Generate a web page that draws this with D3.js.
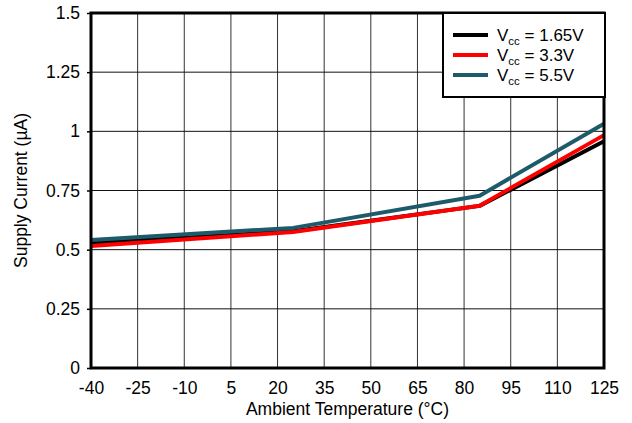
<!DOCTYPE html>
<html>
<head>
<meta charset="utf-8">
<script src="https://cdn.jsdelivr.net/npm/d3@7"></script>
<style>
  body { margin: 0; background: #fff; }
  text { font-family: "Liberation Sans", Arial, sans-serif; fill: #000; }
</style>
</head>
<body>
<div class="chart"></div>
<script>
// DATA ------------------------------------
const temps = [-40, 25, 85, 125]
const vcc165 = [0.528, 0.578, 0.685, 0.958]
const vcc33 = [0.515, 0.575, 0.686, 0.984]
const vcc55 = [0.541, 0.592, 0.728, 1.032]
const xTicks = [-40, -25, -10, 5, 20, 35, 50, 65, 80, 95, 110, 125]
const yTicks = [0, 0.25, 0.5, 0.75, 1, 1.25, 1.5]
const seriesNames = ["1.65V", "3.3V", "5.5V"]
const seriesColors = ["#000000", "#ff0000", "#1d5b6b"]

const series = [vcc165, vcc33, vcc55].map((vals, i) => ({
    name: seriesNames[i],
    color: seriesColors[i],
    values: vals.map((v, j) => ({t: temps[j], v: v}))
}))

// CHART INIT ------------------------------
const margin = {top: 13, right: 28, bottom: 55, left: 91}
const width = 632 - margin.left - margin.right
const height = 423 - margin.top - margin.bottom
const fontSize = 17.5

const svg = d3.select(".chart").append("svg")
        .attr("width", 632)
        .attr("height", 423)
    .append("g")
        .attr("transform", `translate(${margin.left},${margin.top})`)

const xScale = d3.scaleLinear().domain([-40, 125]).range([0, width])
const yScale = d3.scaleLinear().domain([0, 1.5]).range([height, 0])

// grid
svg.append("g").selectAll("line")
    .data(xTicks.slice(1, -1))
    .join("line")
        .attr("x1", d => xScale(d)).attr("x2", d => xScale(d))
        .attr("y1", 0).attr("y2", height)
        .attr("stroke", "#333").attr("stroke-width", 1)

svg.append("g").selectAll("line")
    .data(yTicks.slice(1, -1))
    .join("line")
        .attr("x1", 0).attr("x2", width)
        .attr("y1", d => yScale(d)).attr("y2", d => yScale(d))
        .attr("stroke", "#111").attr("stroke-width", 1)

// axes
const xAx = d3.axisBottom(xScale).tickValues(xTicks).tickSize(0).tickPadding(14)
    .tickFormat(d => String(d))
const yAx = d3.axisLeft(yScale).tickValues(yTicks).tickSize(4).tickPadding(7)
    .tickFormat(d => String(d))

svg.append("g")
    .attr("transform", `translate(0,${height})`)
    .call(xAx)
    .call(g => g.select(".domain").remove())
    .call(g => g.selectAll("text").attr("font-size", fontSize).attr("font-family", "Liberation Sans, Arial"))

svg.append("g")
    .call(yAx)
    .call(g => g.select(".domain").remove())
    .call(g => g.selectAll("line").attr("stroke-width", 1.5))
    .call(g => g.selectAll("text").attr("font-size", fontSize).attr("font-family", "Liberation Sans, Arial"))

// lines
const line = d3.line().x(d => xScale(d.t)).y(d => yScale(d.v))
svg.append("g").selectAll("path")
    .data(series)
    .join("path")
        .attr("d", d => line(d.values))
        .attr("fill", "none")
        .attr("stroke", d => d.color)
        .attr("stroke-width", 4)
        .attr("stroke-linejoin", "round")

// frame
svg.append("rect")
    .attr("x", 0).attr("y", 0)
    .attr("width", width).attr("height", height)
    .attr("fill", "none")
    .attr("stroke", "#000")
    .attr("stroke-width", 3)

// axis titles
svg.append("text")
    .attr("x", width / 2)
    .attr("y", height + 47)
    .attr("text-anchor", "middle")
    .attr("font-size", fontSize)
    .text("Ambient Temperature (°C)")

svg.append("text")
    .attr("transform", `translate(${-margin.left + 27},${height / 2}) rotate(-90)`)
    .attr("text-anchor", "middle")
    .attr("font-size", fontSize)
    .text("Supply Current (µA)")

// legend
const lg = svg.append("g").attr("transform", `translate(${width - 161},0)`)
lg.append("rect")
    .attr("width", 162).attr("height", 84)
    .attr("fill", "#fff")
    .attr("stroke", "#000")
    .attr("stroke-width", 2)

const items = lg.selectAll("g.item")
    .data(series)
    .join("g")
        .attr("class", "item")
        .attr("transform", (d, i) => `translate(0,${22 + i * 20})`)

items.append("line")
    .attr("x1", 10).attr("x2", 45)
    .attr("stroke", d => d.color)
    .attr("stroke-width", 4)

const lt = items.append("text")
    .attr("x", 54)
    .attr("y", 6)
    .attr("font-size", 17)
lt.append("tspan").text("V")
lt.append("tspan").attr("font-size", 11.5).attr("dy", 4).text("cc")
lt.append("tspan").attr("dy", -4).text(d => " = " + d.name)
</script>
</body>
</html>
